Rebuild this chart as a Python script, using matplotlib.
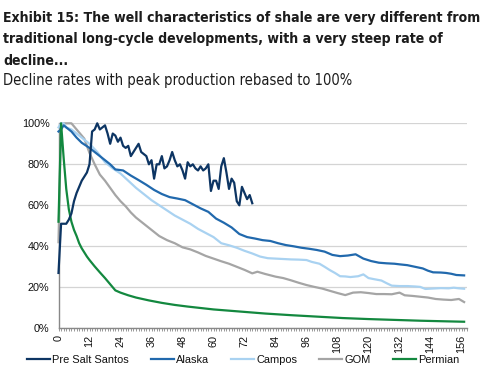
import matplotlib
matplotlib.use("Agg")
import matplotlib.pyplot as plt
from matplotlib import font_manager as fm
from matplotlib.ticker import MultipleLocator, FuncFormatter

# ---------------- data ----------------
title_lines = ["Exhibit 15: The well characteristics of shale are very different from",
               "traditional long-cycle developments, with a very steep rate of",
               "decline..."]
subtitle = "Decline rates with peak production rebased to 100%"

series_names = ["Pre Salt Santos", "Alaska", "Campos", "GOM", "Permian"]

santos_months = list(range(0, 76))
santos_values = [27, 51, 51, 51, 53, 56, 62, 66, 69, 72, 74, 76, 80, 96, 97, 100,
                 97, 98, 99, 95, 90, 95, 94, 91, 93, 89, 88, 89, 84, 86, 88, 90,
                 86, 85, 84, 80, 82, 73, 80, 80, 84, 78, 79, 82, 86, 82, 79, 80,
                 77, 73, 81, 79, 80, 78, 77, 79, 77, 78, 80, 67, 72, 72, 68, 79,
                 83, 76, 68, 73, 71, 62, 60, 69, 66, 63, 65, 61]

alaska_months = [0, 1, 2, 3, 5, 7, 9, 12, 15, 18, 20, 22, 25, 28, 31, 34, 37, 40,
                 43, 46, 49, 52, 55, 58, 61, 64, 67, 70, 73, 76, 79, 82, 85, 88,
                 91, 94, 97, 100, 103, 106, 109, 112, 115, 118, 121, 124, 127,
                 130, 132, 135, 138, 141, 143, 145, 148, 150, 152, 154, 157]
alaska_values = [96, 97, 99, 98, 96, 93, 90.5, 88, 85, 82, 80, 77.5, 77, 74.5,
                 72.3, 70, 67.5, 65.5, 64, 63.3, 62.5, 60.5, 58.5, 56.8, 53.5,
                 51.5, 49.2, 46, 44.5, 43.8, 43, 42.6, 41.5, 40.6, 40, 39.3, 38.8,
                 38.2, 37.4, 35.8, 35.2, 35.5, 36.1, 34, 32.8, 32, 31.7, 31.5,
                 31.2, 30.8, 30, 29.2, 28.1, 27.3, 27.2, 27, 26.6, 26, 25.8]

campos_months = [0, 1, 2, 3, 5, 7, 9, 12, 15, 18, 21, 24, 27, 30, 33, 36, 39, 42,
                 45, 48, 51, 54, 57, 60, 63, 66, 69, 72, 75, 78, 81, 84, 87, 90,
                 93, 96, 98, 101, 103, 105, 107, 109, 111, 113, 116, 118, 120,
                 122, 125, 127, 129, 132, 135, 138, 140, 142, 145, 148, 151, 153,
                 155, 157]
campos_values = [98, 100, 100, 98, 97, 95, 93, 90, 86, 81, 78, 75.5, 72, 68.5,
                 65.5, 62.5, 60, 57.5, 55, 53, 51, 48.5, 46.5, 44.5, 41.5, 40.5,
                 39.3, 37.8, 36.5, 35, 34.2, 34, 33.8, 33.6, 33.5, 33.3, 32.4, 31.5,
                 30, 28.4, 27, 25.4, 25.3, 25, 25.4, 26.3, 24.5, 24, 23.3, 22,
                 20.8, 20.6, 20.6, 20.4, 20.2, 19.2, 19.4, 19.6, 19.5, 19.8, 19.5,
                 19.3]

gom_months = [0, 1, 2, 3, 5, 6, 8, 10, 12, 14, 16, 18, 20, 22, 24, 26, 28, 30,
              33, 36, 39, 42, 45, 48, 51, 54, 57, 60, 63, 66, 69, 72, 75, 77, 80,
              84, 87, 90, 93, 96, 99, 102, 105, 108, 111, 114, 117, 120, 123, 126,
              129, 132, 134, 137, 140, 143, 146, 149, 152, 155, 157]
gom_values = [42, 100, 100, 100, 100, 98.5, 95.5, 92.5, 85.5, 80, 75, 72, 68.5,
              65, 62, 59.5, 56.5, 54, 51, 48, 45, 43, 41.5, 39.5, 38.5, 37, 35.3,
              34, 32.7, 31.5, 30, 28.5, 26.8, 27.6, 26.5, 25.2, 24.5, 23.4, 22.2,
              21.1, 20.2, 19.4, 18.3, 17.2, 16.2, 17.4, 17.6, 17.2, 16.7, 16.7,
              16.6, 17.4, 16.1, 15.8, 15.4, 15, 14.3, 14, 13.8, 14.3, 12.8]

permian_months = [0, 1, 2, 3, 4, 5, 6, 7, 8, 9, 10, 11, 12, 14, 16, 18, 20, 22,
                  24, 27, 30, 35, 40, 45, 50, 55, 60, 70, 80, 90, 100, 110, 120,
                  130, 140, 150, 157]
permian_values = [52, 100, 83, 68, 58, 52, 48, 45, 41.5, 39, 37, 35, 33.3, 30.2,
                  27.3, 24.5, 21.5, 18.5, 17.4, 16.1, 15, 13.6, 12.4, 11.4, 10.6,
                  9.9, 9.2, 8.2, 7.2, 6.4, 5.7, 5.0, 4.5, 4.1, 3.7, 3.4, 3.2]

series_months = [santos_months, alaska_months, campos_months, gom_months, permian_months]
series_values = [santos_values, alaska_values, campos_values, gom_values, permian_values]
series_colors = ["#0d3563", "#2169ad", "#a9d2f1", "#a5a5a5", "#13883f"]

y_ticks = [0, 20, 40, 60, 80, 100]
x_label_ticks = list(range(0, 157, 12))

# ---------------- fonts ----------------
base = "Liberation Sans"
plt.rcParams["font.family"] = [base, "DejaVu Sans"]


def find_narrow(bold):
    cands = []
    for f in fm.fontManager.ttflist:
        nm = f.name.lower()
        st = str(f.stretch).lower()
        is_narrow = ("narrow" in nm or "condensed" in nm or "condensed" in st
                     or "narrow" in st or (isinstance(f.stretch, int) and f.stretch < 500))
        if not is_narrow:
            continue
        w = f.weight if isinstance(f.weight, int) else (700 if "bold" in str(f.weight) else 400)
        if bold and w < 600:
            continue
        if not bold and w >= 600:
            continue
        if f.style != "normal":
            continue
        rank = 0 if "liberation" in nm else (1 if "dejavu" in nm else 2)
        cands.append((rank, f.fname))
    if cands:
        cands.sort()
        return fm.FontProperties(fname=cands[0][1])
    return fm.FontProperties(family=base, weight="bold" if bold else "normal")


title_fp = find_narrow(True)
sub_fp = find_narrow(False)

# ---------------- figure ----------------
W, H = 486, 378
fig = plt.figure(figsize=(W / 100, H / 100), dpi=100)
fig.patch.set_facecolor("white")

ax = fig.add_axes([58.5 / W, 1 - 328.3 / H, (466.7 - 58.5) / W, (328.3 - 123.3) / H])

draw_order = [3, 2, 1, 4, 0]
lines = {}
for k, i in enumerate(draw_order):
    (ln,) = ax.plot(series_months[i], series_values[i], color=series_colors[i],
                    lw=1.6, solid_joinstyle="round",
                    label=series_names[i], zorder=3 + k, clip_on=False)
    lines[i] = ln

ax.set_xlim(0, 158)
ax.set_ylim(0, 100)

ax.set_yticks(y_ticks)
ax.yaxis.set_major_formatter(FuncFormatter(lambda v, p: f"{int(v)}%"))
ax.tick_params(axis="y", length=0, pad=6.5, labelsize=7.8, colors="#111111")
ax.grid(axis="y", color="#d4d4d4", lw=0.9, zorder=0)
ax.set_axisbelow(True)

ax.set_xticks(x_label_ticks)
ax.set_xticklabels([str(t) for t in x_label_ticks], rotation=90, fontsize=7.8,
                   color="#111111", va="top", ha="center")
ax.xaxis.set_minor_locator(MultipleLocator(1))
ax.tick_params(axis="x", which="both", direction="out", length=2.5, width=0.6,
               color="#888888", pad=2)

for s in ["top", "right"]:
    ax.spines[s].set_visible(False)
for s in ["left", "bottom"]:
    ax.spines[s].set_color("#888888")
    ax.spines[s].set_linewidth(1.0)

# legend
handles = [lines[i] for i in range(5)]
leg = fig.legend(handles, series_names, loc="center", ncol=5,
                 bbox_to_anchor=(0.5, 1 - 360 / H), frameon=False, fontsize=7.9,
                 handlelength=2.1, handletextpad=0.2, columnspacing=2.0,
                 labelcolor="#111111")

fig.canvas.draw()
renderer = fig.canvas.get_renderer()


def fitted_text(x_px, base_px, s, target_w, size, fp, **kw):
    fp = fp.copy()
    fp.set_size(size)
    t = fig.text(x_px / W, 1 - base_px / H, s, fontproperties=fp, va="baseline", ha="left", **kw)
    w = t.get_window_extent(renderer).width
    fp2 = fp.copy()
    fp2.set_size(size * target_w / w)
    t.set_fontproperties(fp2)
    return t, fp2


t0, tfp = fitted_text(3, 21.7, title_lines[0], 478, 12, title_fp, color="#1c1c1c")
fig.text(3 / W, 1 - 43.5 / H, title_lines[1], fontproperties=tfp, color="#1c1c1c", va="baseline")
fig.text(3 / W, 1 - 65.3 / H, title_lines[2], fontproperties=tfp, color="#1c1c1c", va="baseline")
fitted_text(3, 85.3, subtitle, 347, 10, sub_fp, color="#1c1c1c")

fig.savefig("out.png", dpi=100, facecolor="white")
